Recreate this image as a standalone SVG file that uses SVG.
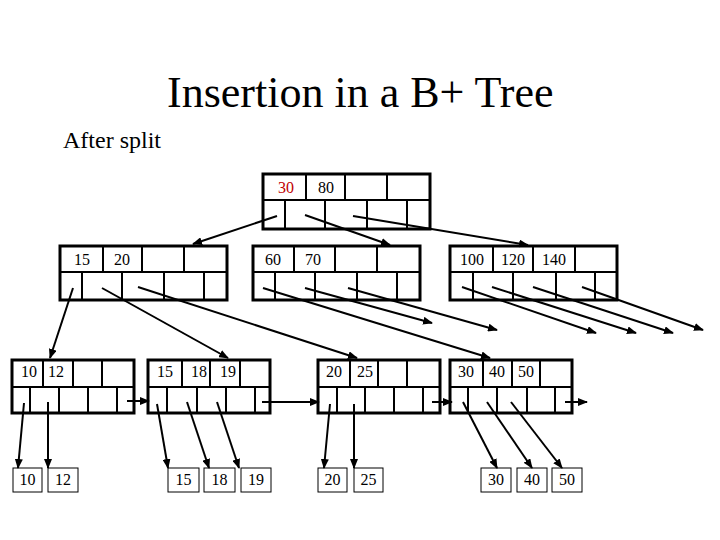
<svg xmlns="http://www.w3.org/2000/svg" width="720" height="540" viewBox="0 0 720 540">
<style>
.box{fill:none;stroke:#000;stroke-width:3}
.div{stroke:#000;stroke-width:2}
.data{fill:#fff;stroke:#000;stroke-width:1}
.t{font-family:"Liberation Serif","Times New Roman",serif;font-size:16px;text-anchor:middle;fill:#000}
.arr{stroke:#000;stroke-width:2;fill:none;marker-end:url(#ah)}
</style>
<defs>
<marker id="ah" markerWidth="10" markerHeight="8" refX="9" refY="4" orient="auto" markerUnits="userSpaceOnUse">
<path d="M0,0 L10,4 L0,8 z" fill="#000"/>
</marker>
</defs>
<rect width="720" height="540" fill="#fff"/>
<text x="167" y="107" font-family="Liberation Serif,'Times New Roman',serif" font-size="44">Insertion in a B+ Tree</text>
<text x="63" y="148" font-family="Liberation Serif,'Times New Roman',serif" font-size="24">After split</text>

<g id="root">
<rect class="box" x="263" y="174" width="167" height="55"/>
<line class="div" x1="263" y1="200" x2="430" y2="200"/>
<line class="div" x1="306" y1="174" x2="306" y2="200"/>
<line class="div" x1="345" y1="174" x2="345" y2="200"/>
<line class="div" x1="387" y1="174" x2="387" y2="200"/>
<line class="div" x1="285" y1="200" x2="285" y2="229"/>
<line class="div" x1="325" y1="200" x2="325" y2="229"/>
<line class="div" x1="367" y1="200" x2="367" y2="229"/>
<line class="div" x1="407" y1="200" x2="407" y2="229"/>
<text class="t" x="286" y="193" fill="#c00000" style="fill:#c00000">30</text>
<text class="t" x="326" y="193">80</text>
</g>

<g id="inner1">
<rect class="box" x="60" y="246" width="167" height="54"/>
<line class="div" x1="60" y1="272" x2="227" y2="272"/>
<line class="div" x1="103" y1="246" x2="103" y2="272"/>
<line class="div" x1="142" y1="246" x2="142" y2="272"/>
<line class="div" x1="184" y1="246" x2="184" y2="272"/>
<line class="div" x1="82" y1="272" x2="82" y2="300"/>
<line class="div" x1="122" y1="272" x2="122" y2="300"/>
<line class="div" x1="164" y1="272" x2="164" y2="300"/>
<line class="div" x1="204" y1="272" x2="204" y2="300"/>
<text class="t" x="82" y="265">15</text>
<text class="t" x="122" y="265">20</text>
</g>

<g id="inner2">
<rect class="box" x="253" y="246" width="167" height="54"/>
<line class="div" x1="253" y1="272" x2="420" y2="272"/>
<line class="div" x1="294" y1="246" x2="294" y2="272"/>
<line class="div" x1="335" y1="246" x2="335" y2="272"/>
<line class="div" x1="377" y1="246" x2="377" y2="272"/>
<line class="div" x1="275" y1="272" x2="275" y2="300"/>
<line class="div" x1="315" y1="272" x2="315" y2="300"/>
<line class="div" x1="357" y1="272" x2="357" y2="300"/>
<line class="div" x1="397" y1="272" x2="397" y2="300"/>
<text class="t" x="273" y="265">60</text>
<text class="t" x="313" y="265">70</text>
</g>

<g id="inner3">
<rect class="box" x="450" y="246" width="167" height="54"/>
<line class="div" x1="450" y1="272" x2="617" y2="272"/>
<line class="div" x1="493" y1="246" x2="493" y2="272"/>
<line class="div" x1="533" y1="246" x2="533" y2="272"/>
<line class="div" x1="575" y1="246" x2="575" y2="272"/>
<line class="div" x1="473" y1="272" x2="473" y2="300"/>
<line class="div" x1="513" y1="272" x2="513" y2="300"/>
<line class="div" x1="556" y1="272" x2="556" y2="300"/>
<line class="div" x1="595" y1="272" x2="595" y2="300"/>
<text class="t" x="472" y="265">100</text>
<text class="t" x="513" y="265">120</text>
<text class="t" x="554" y="265">140</text>
</g>

<g id="leaf1">
<rect class="box" x="12" y="360" width="122" height="53"/>
<line class="div" x1="12" y1="387" x2="134" y2="387"/>
<line class="div" x1="43" y1="360" x2="43" y2="387"/>
<line class="div" x1="73" y1="360" x2="73" y2="387"/>
<line class="div" x1="102" y1="360" x2="102" y2="387"/>
<line class="div" x1="30" y1="387" x2="30" y2="413"/>
<line class="div" x1="59" y1="387" x2="59" y2="413"/>
<line class="div" x1="88" y1="387" x2="88" y2="413"/>
<line class="div" x1="117" y1="387" x2="117" y2="413"/>
<text class="t" x="29" y="377">10</text>
<text class="t" x="56" y="377">12</text>
</g>

<g id="leaf2">
<rect class="box" x="148" y="360" width="122" height="53"/>
<line class="div" x1="148" y1="387" x2="270" y2="387"/>
<line class="div" x1="182" y1="360" x2="182" y2="387"/>
<line class="div" x1="210" y1="360" x2="210" y2="387"/>
<line class="div" x1="240" y1="360" x2="240" y2="387"/>
<line class="div" x1="167" y1="387" x2="167" y2="413"/>
<line class="div" x1="197" y1="387" x2="197" y2="413"/>
<line class="div" x1="226" y1="387" x2="226" y2="413"/>
<line class="div" x1="255" y1="387" x2="255" y2="413"/>
<text class="t" x="165" y="377">15</text>
<text class="t" x="199" y="377">18</text>
<text class="t" x="228" y="377">19</text>
</g>

<g id="leaf3">
<rect class="box" x="318" y="360" width="122" height="53"/>
<line class="div" x1="318" y1="387" x2="440" y2="387"/>
<line class="div" x1="350" y1="360" x2="350" y2="387"/>
<line class="div" x1="378" y1="360" x2="378" y2="387"/>
<line class="div" x1="407" y1="360" x2="407" y2="387"/>
<line class="div" x1="337" y1="387" x2="337" y2="413"/>
<line class="div" x1="365" y1="387" x2="365" y2="413"/>
<line class="div" x1="394" y1="387" x2="394" y2="413"/>
<line class="div" x1="423" y1="387" x2="423" y2="413"/>
<text class="t" x="334" y="377">20</text>
<text class="t" x="365" y="377">25</text>
</g>

<g id="leaf4">
<rect class="box" x="450" y="360" width="122" height="53"/>
<line class="div" x1="450" y1="387" x2="572" y2="387"/>
<line class="div" x1="483" y1="360" x2="483" y2="387"/>
<line class="div" x1="512" y1="360" x2="512" y2="387"/>
<line class="div" x1="540" y1="360" x2="540" y2="387"/>
<line class="div" x1="468" y1="387" x2="468" y2="413"/>
<line class="div" x1="497" y1="387" x2="497" y2="413"/>
<line class="div" x1="527" y1="387" x2="527" y2="413"/>
<line class="div" x1="555" y1="387" x2="555" y2="413"/>
<text class="t" x="466" y="377">30</text>
<text class="t" x="497" y="377">40</text>
<text class="t" x="526" y="377">50</text>
</g>

<g id="d10"><rect class="data" x="13" y="468" width="29" height="24"/><text class="t" x="27.5" y="485">10</text></g>
<g id="d12"><rect class="data" x="48" y="468" width="30" height="24"/><text class="t" x="63" y="485">12</text></g>
<g id="d15"><rect class="data" x="168" y="468" width="31" height="24"/><text class="t" x="183.5" y="485">15</text></g>
<g id="d18"><rect class="data" x="204" y="468" width="31" height="24"/><text class="t" x="219.5" y="485">18</text></g>
<g id="d19"><rect class="data" x="241" y="468" width="30" height="24"/><text class="t" x="256" y="485">19</text></g>
<g id="d20"><rect class="data" x="318" y="468" width="29" height="24"/><text class="t" x="332.5" y="485">20</text></g>
<g id="d25"><rect class="data" x="354" y="468" width="29" height="24"/><text class="t" x="368.5" y="485">25</text></g>
<g id="d30"><rect class="data" x="481" y="468" width="30" height="24"/><text class="t" x="496" y="485">30</text></g>
<g id="d40"><rect class="data" x="517" y="468" width="30" height="24"/><text class="t" x="532" y="485">40</text></g>
<g id="d50"><rect class="data" x="552" y="468" width="30" height="24"/><text class="t" x="567" y="485">50</text></g>

<g id="connectors">
<line class="arr" x1="277" y1="216" x2="193" y2="244"/>
<line class="arr" x1="305" y1="215" x2="390" y2="245"/>
<line class="arr" x1="353" y1="216" x2="528" y2="245"/>

<line class="arr" x1="73" y1="288" x2="50" y2="358"/>
<line class="arr" x1="102" y1="288" x2="228" y2="358"/>
<line class="arr" x1="138" y1="287" x2="357" y2="358"/>

<line class="arr" x1="263" y1="288" x2="490" y2="358"/>
<line class="arr" x1="305" y1="288" x2="432" y2="323"/>
<line class="arr" x1="348" y1="288" x2="497" y2="330"/>

<line class="arr" x1="462" y1="287" x2="596" y2="333"/>
<line class="arr" x1="492" y1="287" x2="636" y2="333"/>
<line class="arr" x1="533" y1="287" x2="673" y2="333"/>
<line class="arr" x1="582" y1="287" x2="703" y2="330"/>

<line class="arr" x1="127" y1="401" x2="149" y2="401"/>
<line class="arr" x1="262" y1="402" x2="319" y2="402"/>
<line class="arr" x1="432" y1="402" x2="452" y2="402"/>
<line class="arr" x1="565" y1="402" x2="587" y2="402"/>

<line class="arr" x1="24" y1="403" x2="18" y2="468"/>
<line class="arr" x1="48" y1="402" x2="48" y2="468"/>
<line class="arr" x1="157" y1="404" x2="168" y2="468"/>
<line class="arr" x1="187" y1="402" x2="209" y2="468"/>
<line class="arr" x1="217" y1="402" x2="239" y2="468"/>
<line class="arr" x1="330" y1="404" x2="324" y2="468"/>
<line class="arr" x1="354" y1="404" x2="354" y2="468"/>
<line class="arr" x1="463" y1="402" x2="497" y2="468"/>
<line class="arr" x1="487" y1="402" x2="532" y2="468"/>
<line class="arr" x1="511" y1="402" x2="562" y2="468"/>
</g>
</svg>
